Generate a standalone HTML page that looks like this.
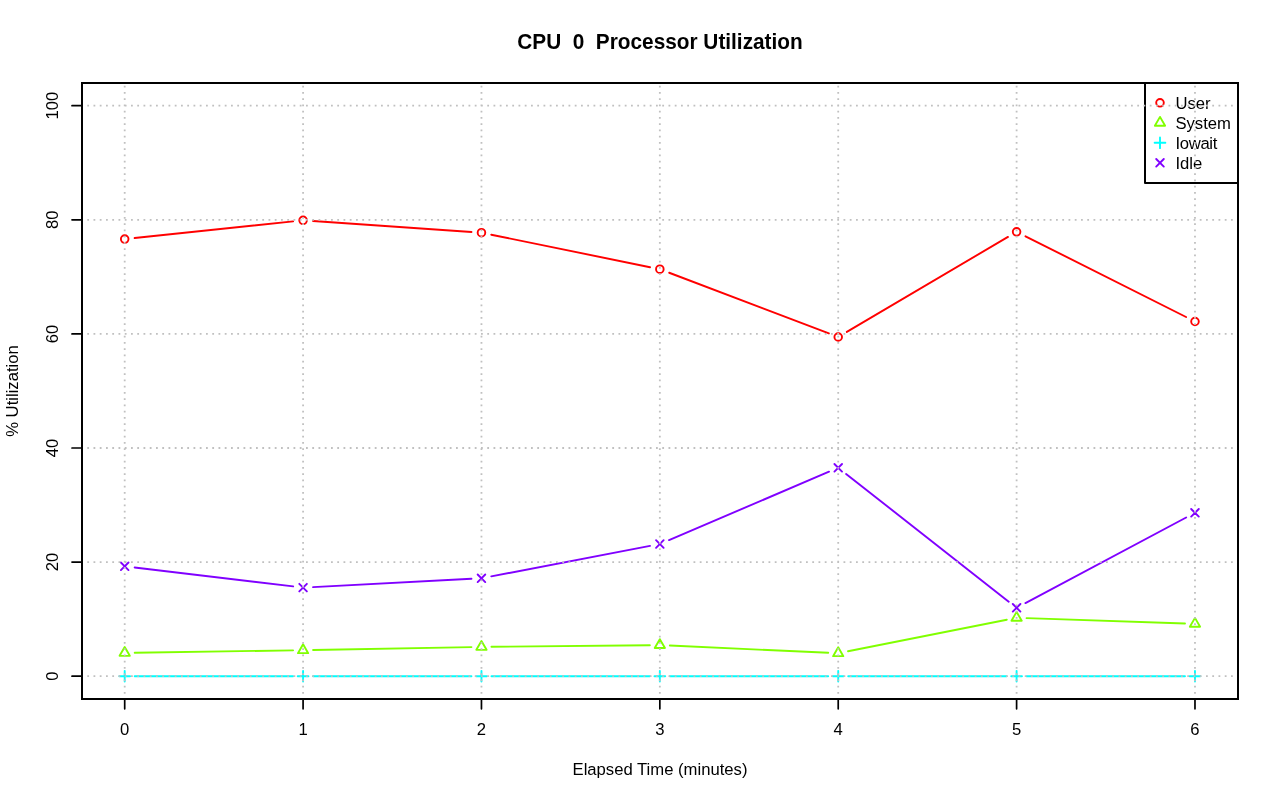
<!DOCTYPE html>
<html><head><meta charset="utf-8"><title>CPU 0 Processor Utilization</title>
<style>html,body{margin:0;padding:0;background:#fff;width:1280px;height:801px;overflow:hidden}</style>
</head><body>
<svg width="1280" height="801" viewBox="0 0 1280 801" style="display:block;will-change:transform">
<rect width="1280" height="801" fill="#fff"/>
<g font-family="'Liberation Sans', sans-serif" fill="#000" style="white-space:pre">
<text transform="translate(660 48.9) scale(1 1.04)" font-size="20.8" font-weight="bold" text-anchor="middle">CPU&#160; 0&#160; Processor Utilization</text><text x="660" y="775" font-size="16.67" text-anchor="middle">Elapsed Time (minutes)</text><text x="124.70" y="735" font-size="16.67" text-anchor="middle">0</text><text x="303.08" y="735" font-size="16.67" text-anchor="middle">1</text><text x="481.46" y="735" font-size="16.67" text-anchor="middle">2</text><text x="659.84" y="735" font-size="16.67" text-anchor="middle">3</text><text x="838.22" y="735" font-size="16.67" text-anchor="middle">4</text><text x="1016.60" y="735" font-size="16.67" text-anchor="middle">5</text><text x="1194.98" y="735" font-size="16.67" text-anchor="middle">6</text><text transform="translate(58.2 676.20) rotate(-90)" font-size="16.67" text-anchor="middle">0</text><text transform="translate(58.2 562.10) rotate(-90)" font-size="16.67" text-anchor="middle">20</text><text transform="translate(58.2 448.00) rotate(-90)" font-size="16.67" text-anchor="middle">40</text><text transform="translate(58.2 333.90) rotate(-90)" font-size="16.67" text-anchor="middle">60</text><text transform="translate(58.2 219.80) rotate(-90)" font-size="16.67" text-anchor="middle">80</text><text transform="translate(58.2 105.70) rotate(-90)" font-size="16.67" text-anchor="middle">100</text><text transform="translate(17.8 391) rotate(-90)" font-size="16.67" text-anchor="middle">% Utilization</text><text x="1175.4" y="108.90" font-size="16.67">User</text><text x="1175.4" y="128.90" font-size="16.67">System</text><text x="1175.4" y="148.90" font-size="16.67" letter-spacing="-0.3">Iowait</text><text x="1175.4" y="168.90" font-size="16.67">Idle</text>
</g>
<g fill="none" stroke-width="1.9" stroke-linecap="round" stroke-linejoin="round"><path d="M134.64 238.05L293.14 221.35M313.06 220.99L471.48 232.01M491.26 234.70L650.04 267.20M669.19 272.75L828.87 333.45M846.83 331.92L1007.99 236.88M1025.53 236.29L1186.05 317.01" stroke="#FF0000"/><circle cx="124.70" cy="239.10" r="3.80" stroke="#FF0000"/><circle cx="303.08" cy="220.30" r="3.80" stroke="#FF0000"/><circle cx="481.46" cy="232.70" r="3.80" stroke="#FF0000"/><circle cx="659.84" cy="269.20" r="3.80" stroke="#FF0000"/><circle cx="838.22" cy="337.00" r="3.80" stroke="#FF0000"/><circle cx="1016.60" cy="231.80" r="3.80" stroke="#FF0000"/><circle cx="1194.98" cy="321.50" r="3.80" stroke="#FF0000"/><path d="M134.70 652.75L293.08 650.35M313.08 650.02L471.46 647.08M491.46 646.80L649.84 645.20M669.83 645.55L828.23 652.75M848.03 651.25L1006.79 619.75M1026.59 618.14L1184.99 623.46" stroke="#80FF00"/><path d="M124.70 646.99L129.82 655.85L119.58 655.85Z" stroke="#80FF00"/><path d="M303.08 644.29L308.20 653.15L297.96 653.15Z" stroke="#80FF00"/><path d="M481.46 640.99L486.58 649.85L476.34 649.85Z" stroke="#80FF00"/><path d="M659.84 639.19L664.96 648.05L654.72 648.05Z" stroke="#80FF00"/><path d="M838.22 647.29L843.34 656.15L833.10 656.15Z" stroke="#80FF00"/><path d="M1016.60 611.89L1021.72 620.75L1011.48 620.75Z" stroke="#80FF00"/><path d="M1194.98 617.89L1200.10 626.75L1189.86 626.75Z" stroke="#80FF00"/><path d="M134.70 676.20L293.08 676.20M313.08 676.20L471.46 676.20M491.46 676.20L649.84 676.20M669.84 676.20L828.22 676.20M848.22 676.20L1006.60 676.20M1026.60 676.20L1184.98 676.20" stroke="#00FFFF"/><path d="M119.33 676.20H130.07M124.70 670.83V681.57" stroke="#00FFFF"/><path d="M297.71 676.20H308.45M303.08 670.83V681.57" stroke="#00FFFF"/><path d="M476.09 676.20H486.83M481.46 670.83V681.57" stroke="#00FFFF"/><path d="M654.47 676.20H665.21M659.84 670.83V681.57" stroke="#00FFFF"/><path d="M832.85 676.20H843.59M838.22 670.83V681.57" stroke="#00FFFF"/><path d="M1011.23 676.20H1021.97M1016.60 670.83V681.57" stroke="#00FFFF"/><path d="M1189.61 676.20H1200.35M1194.98 670.83V681.57" stroke="#00FFFF"/><path d="M134.63 567.49L293.15 586.41M313.07 587.08L471.47 578.82M491.28 576.41L650.02 545.89M669.04 540.07L829.02 471.73M846.09 473.97L1008.73 601.63M1025.43 603.10L1186.15 517.50" stroke="#8000FF"/><path d="M120.90 562.50L128.50 570.10M120.90 570.10L128.50 562.50" stroke="#8000FF"/><path d="M299.28 583.80L306.88 591.40M299.28 591.40L306.88 583.80" stroke="#8000FF"/><path d="M477.66 574.50L485.26 582.10M477.66 582.10L485.26 574.50" stroke="#8000FF"/><path d="M656.04 540.20L663.64 547.80M656.04 547.80L663.64 540.20" stroke="#8000FF"/><path d="M834.42 464.00L842.02 471.60M834.42 471.60L842.02 464.00" stroke="#8000FF"/><path d="M1012.80 604.00L1020.40 611.60M1012.80 611.60L1020.40 604.00" stroke="#8000FF"/><path d="M1191.18 509.00L1198.78 516.60M1191.18 516.60L1198.78 509.00" stroke="#8000FF"/><circle cx="1160.00" cy="102.80" r="3.80" stroke="#FF0000"/><path d="M1160.00 116.89L1165.12 125.75L1154.88 125.75Z" stroke="#80FF00"/><path d="M1154.63 142.80H1165.37M1160.00 137.43V148.17" stroke="#00FFFF"/><path d="M1156.20 159.00L1163.80 166.60M1156.20 166.60L1163.80 159.00" stroke="#8000FF"/><path d="M1145 83V183H1238" stroke="#000" stroke-width="2"/></g>
<path d="M124.70 699.95V82.90M303.08 699.95V82.90M481.46 699.95V82.90M659.84 699.95V82.90M838.22 699.95V82.90M1016.60 699.95V82.90M1194.98 699.95V82.90M81.0 676.20H1238.50M81.0 562.10H1238.50M81.0 448.00H1238.50M81.0 333.90H1238.50M81.0 219.80H1238.50M81.0 105.70H1238.50" fill="none" stroke="#C0C0C0" stroke-width="1.8" stroke-dasharray="1.8 4.45"/>
<rect x="82" y="83" width="1156" height="616" fill="none" stroke="#000" stroke-width="2.0"/><path d="M124.70 699.00V708.8M303.08 699.00V708.8M481.46 699.00V708.8M659.84 699.00V708.8M838.22 699.00V708.8M1016.60 699.00V708.8M1194.98 699.00V708.8M82.05 676.20H72.0M82.05 562.10H72.0M82.05 448.00H72.0M82.05 333.90H72.0M82.05 219.80H72.0M82.05 105.70H72.0" fill="none" stroke="#000" stroke-width="1.7" stroke-linecap="round"/>
</svg>
</body></html>
